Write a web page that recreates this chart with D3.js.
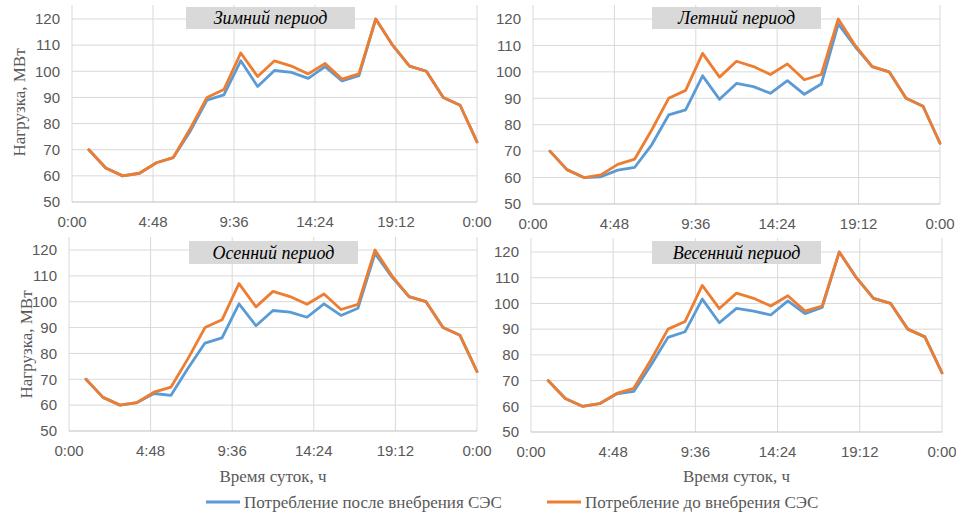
<!DOCTYPE html>
<html><head><meta charset="utf-8">
<script src="https://cdn.jsdelivr.net/npm/d3@7"></script>
<style>body{margin:0;background:#fff;}svg{display:block;}</style>
</head><body>
<svg id="c" width="956" height="514"></svg>
<script>
const hours = [1,2,3,4,5,6,7,8,9,10,11,12,13,14,15,16,17,18,19,20,21,22,23,24];
const xTickValues = [0, 4.8, 9.6, 14.4, 19.2, 24];
const xTickLabels = ["0:00","4:48","9:36","14:24","19:12","0:00"];
const yTicks = [50,60,70,80,90,100,110,120];
const periods = ["Зимний период","Летний период","Осенний период","Весенний период"];
const seriesNames = ["Потребление после внебрения СЭС","Потребление до внебрения СЭС"];
const yTitle = "Нагрузка, МВт";
const xTitle = "Время суток, ч";

const before = [70,63,60,61,65,67,78,90,93,107,98,104,102,99,103,97,99,120,110,102,100,90,87,73];
const afterWinter = [70,63,60,61,65,67,77,89,91,104,94.2,100.3,99.6,97.3,101.8,96.3,98.3,120,110,102,100,90,87,73];
const afterSummer = [70,63,60,60.3,62.8,63.9,72.4,83.7,85.6,98.5,89.6,95.6,94.4,91.9,96.7,91.5,95.4,118.1,109.5,102,100,90,87,73];
const afterAutumn = [70,63,60,61,64.5,63.8,74.3,84,86,99.2,90.7,96.6,96,94,99.2,94.7,97.5,118.7,109.5,102,100,90,87,73];
const afterSpring = [70,63,60,61,64.8,65.8,76,86.8,89,101.7,92.5,98.1,97,95.5,101,96,98.4,120,110,102,100,90,87,73];
const afterSets = [afterWinter, afterSummer, afterAutumn, afterSpring];

const colors = ["#5b9bd5","#ed7d31"];
const layouts = [
  {x0:72, x1:477, yT:19, yB:202, gTop:5, box:[186,7,169,22], yTitle:true, xTitle:false},
  {x0:533, x1:940, yT:19, yB:204, gTop:5, box:[652,7,169,22], yTitle:false, xTitle:false},
  {x0:69, x1:477, yT:250, yB:431, gTop:237, box:[189,241,169,23], yTitle:true, xTitle:true},
  {x0:531, x1:942, yT:252, yB:432, gTop:238, box:[652,241,169,23], yTitle:false, xTitle:true}
];

const svg = d3.select("#c");
const sans = "'Liberation Sans', Arial, Helvetica, sans-serif";
const serif = "'Liberation Serif', 'Times New Roman', Times, 'DejaVu Serif', serif";

layouts.forEach((L, i) => {
  const x = d3.scaleLinear().domain([0,24]).range([L.x0, L.x1]);
  const y = d3.scaleLinear().domain([50,120]).range([L.yB, L.yT]);
  const g = svg.append("g");
  g.selectAll("line.h").data(yTicks.filter(v=>v>50)).join("line")
    .attr("x1", L.x0).attr("x2", L.x1).attr("y1", d=>y(d)).attr("y2", d=>y(d))
    .attr("stroke","#d9d9d9").attr("stroke-width",1);
  g.selectAll("line.v").data(xTickValues).join("line")
    .attr("x1", d=>x(d)).attr("x2", d=>x(d)).attr("y1", L.gTop).attr("y2", L.yB)
    .attr("stroke","#d9d9d9").attr("stroke-width",1);
  g.append("line").attr("x1",L.x0).attr("x2",L.x1).attr("y1",y(50)).attr("y2",y(50))
    .attr("stroke","#bfbfbf").attr("stroke-width",1.2);
  g.selectAll("text.yt").data(yTicks).join("text")
    .attr("x", L.x0 - 12).attr("y", d=>y(d)).attr("dy","0.35em")
    .attr("text-anchor","end").attr("font-family",sans).attr("font-size",15)
    .attr("fill","#595959").text(d=>d);
  g.selectAll("text.xt").data(xTickValues).join("text")
    .attr("x", d=>x(d)).attr("y", L.yB + 20).attr("dy","0.35em")
    .attr("text-anchor","middle").attr("font-family",sans).attr("font-size",15)
    .attr("fill","#595959").text((d,j)=>xTickLabels[j]);
  const line = d3.line().x((d,j)=>x(hours[j])).y(d=>y(d));
  [afterSets[i], before].forEach((arr,k) => {
    g.append("path").datum(arr).attr("d", line).attr("fill","none")
      .attr("stroke", colors[k]).attr("stroke-width",2.8)
      .attr("stroke-linejoin","round").attr("stroke-linecap","round");
  });
  g.append("rect").attr("x",L.box[0]).attr("y",L.box[1]).attr("width",L.box[2]).attr("height",L.box[3])
    .attr("fill","#d9d9d9");
  g.append("text").attr("x",L.box[0]+L.box[2]/2).attr("y",L.box[1]+L.box[3]/2).attr("dy","0.35em")
    .attr("text-anchor","middle").attr("font-family",serif).attr("font-style","italic")
    .attr("font-size",18).attr("fill","#000").text(periods[i]);
  if (L.yTitle) {
    const cy = (L.yT + L.yB)/2 - (i===0?8:-4);
    g.append("text").attr("transform",`translate(${i===0?19:26},${cy}) rotate(-90)`)
      .attr("dy","0.35em").attr("text-anchor","middle").attr("font-family",serif)
      .attr("font-size",17).attr("fill","#595959").text(yTitle);
  }
  if (L.xTitle) {
    g.append("text").attr("x",(L.x0+L.x1)/2).attr("y",476).attr("dy","0.35em")
      .attr("text-anchor","middle").attr("font-family",serif)
      .attr("font-size",17).attr("fill","#595959").text(xTitle);
  }
});

const legend = [{x:206, c:colors[0], t:seriesNames[0]},{x:547, c:colors[1], t:seriesNames[1]}];
legend.forEach(l => {
  svg.append("line").attr("x1",l.x).attr("x2",l.x+34).attr("y1",502).attr("y2",502)
    .attr("stroke",l.c).attr("stroke-width",2.8);
  svg.append("text").attr("x",l.x+38).attr("y",502).attr("dy","0.35em")
    .attr("font-family",serif).attr("font-size",17).attr("fill","#595959").text(l.t);
});
</script>
</body></html>
